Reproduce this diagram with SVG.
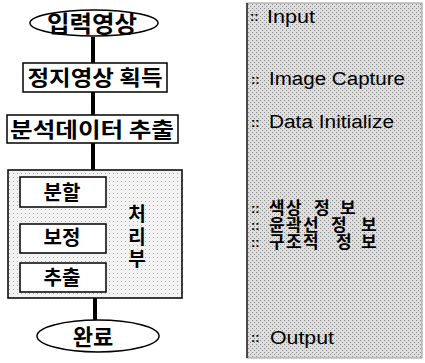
<svg xmlns="http://www.w3.org/2000/svg" width="425" height="363" viewBox="0 0 425 363">
<style>
.k{font-family:"Noto Sans CJK KR","Noto Sans",sans-serif;font-weight:bold;fill:#000}
.e{font-family:"Liberation Sans","DejaVu Sans",sans-serif;fill:#000;font-size:18px}
.m{font-family:"Liberation Sans","DejaVu Sans",sans-serif;fill:#000;font-size:13px;font-weight:bold}
.box{fill:#fff;stroke:#000;stroke-width:1.5}
.conn{stroke:#000;stroke-width:4}
</style>
<defs>
<pattern id="dots" width="4" height="4" patternUnits="userSpaceOnUse">
<rect width="4" height="4" fill="#dedede"/>
<rect x="0" y="0" width="1" height="1" fill="#8a8a8a"/>
<rect x="2" y="2" width="1" height="1" fill="#8a8a8a"/>
</pattern>
<pattern id="dots2" width="4" height="4" patternUnits="userSpaceOnUse">
<rect width="4" height="4" fill="#f2f2f2"/>
<rect x="1" y="1" width="1" height="1" fill="#b0b0b0"/>
</pattern>
</defs>
<g id="connectors">
<line class="conn" x1="93" y1="37" x2="93" y2="63"/>
<line class="conn" x1="93" y1="92" x2="93" y2="115"/>
<line class="conn" x1="93" y1="143" x2="93" y2="170"/>
<line class="conn" x1="95" y1="298" x2="95" y2="320"/>
</g>
<g id="input">
<ellipse cx="94" cy="23" rx="64" ry="13" fill="#fff" stroke="#000" stroke-width="1.5"/>
<text class="k" x="92" y="32" font-size="23" text-anchor="middle" textLength="90" lengthAdjust="spacingAndGlyphs">입력영상</text>
</g>
<g id="capture">
<rect class="box" x="23" y="63" width="144" height="29"/>
<text class="k" x="95" y="85" font-size="21" text-anchor="middle" textLength="135" lengthAdjust="spacingAndGlyphs">정지영상 획득</text>
</g>
<g id="extract-data">
<rect class="box" x="7" y="115" width="171" height="28"/>
<text class="k" x="92" y="137" font-size="21" text-anchor="middle" textLength="164" lengthAdjust="spacingAndGlyphs">분석데이터 추출</text>
</g>
<g id="processing">
<rect x="8" y="170" width="174" height="128" fill="url(#dots2)" stroke="#000" stroke-width="1.5"/>
<text class="k" x="137" y="221" font-size="19" font-weight="normal" text-anchor="middle">처</text>
<text class="k" x="137" y="244" font-size="19" font-weight="normal" text-anchor="middle">리</text>
<text class="k" x="137" y="266" font-size="19" font-weight="normal" text-anchor="middle">부</text>
</g>
<g id="split">
<rect class="box" x="20" y="177" width="86" height="30"/>
<text class="k" x="62" y="200" font-size="20" text-anchor="middle">분할</text>
</g>
<g id="correct">
<rect class="box" x="20" y="224" width="86" height="29"/>
<text class="k" x="62" y="245" font-size="20" text-anchor="middle">보정</text>
</g>
<g id="extract">
<rect class="box" x="20" y="263" width="86" height="29"/>
<text class="k" x="62" y="285" font-size="20" text-anchor="middle">추출</text>
</g>
<g id="done">
<ellipse cx="98" cy="336" rx="61" ry="16" fill="#fff" stroke="#000" stroke-width="1.5"/>
<text class="k" x="93" y="345" font-size="22" text-anchor="middle">완료</text>
</g>
<g id="panel">
<rect x="247" y="3" width="175" height="355" fill="url(#dots)" stroke="#999" stroke-width="1"/>
<line x1="247" y1="3" x2="247" y2="358" stroke="#222" stroke-width="1.5"/>
<text class="m" x="250" y="21">::</text>
<text class="e" x="267" y="23" textLength="48" lengthAdjust="spacingAndGlyphs">Input</text>
<text class="m" x="251" y="84">::</text>
<text class="e" x="269" y="85" textLength="136" lengthAdjust="spacingAndGlyphs">Image Capture</text>
<text class="m" x="251" y="127">::</text>
<text class="e" x="269" y="128" textLength="125" lengthAdjust="spacingAndGlyphs">Data Initialize</text>
<text class="m" x="251" y="213">::</text>
<text class="k" font-size="17" x="269 286 314 340" y="214">색상정보</text>
<text class="m" x="251" y="230">::</text>
<text class="k" font-size="17" x="269 286 303 331 361" y="231">윤곽선정보</text>
<text class="m" x="251" y="247">::</text>
<text class="k" font-size="17" x="269 286 303 336 361" y="248">구조적정보</text>
<text class="m" x="251" y="342">::</text>
<text class="e" x="270" y="344" textLength="64" lengthAdjust="spacingAndGlyphs">Output</text>
</g>
</svg>
